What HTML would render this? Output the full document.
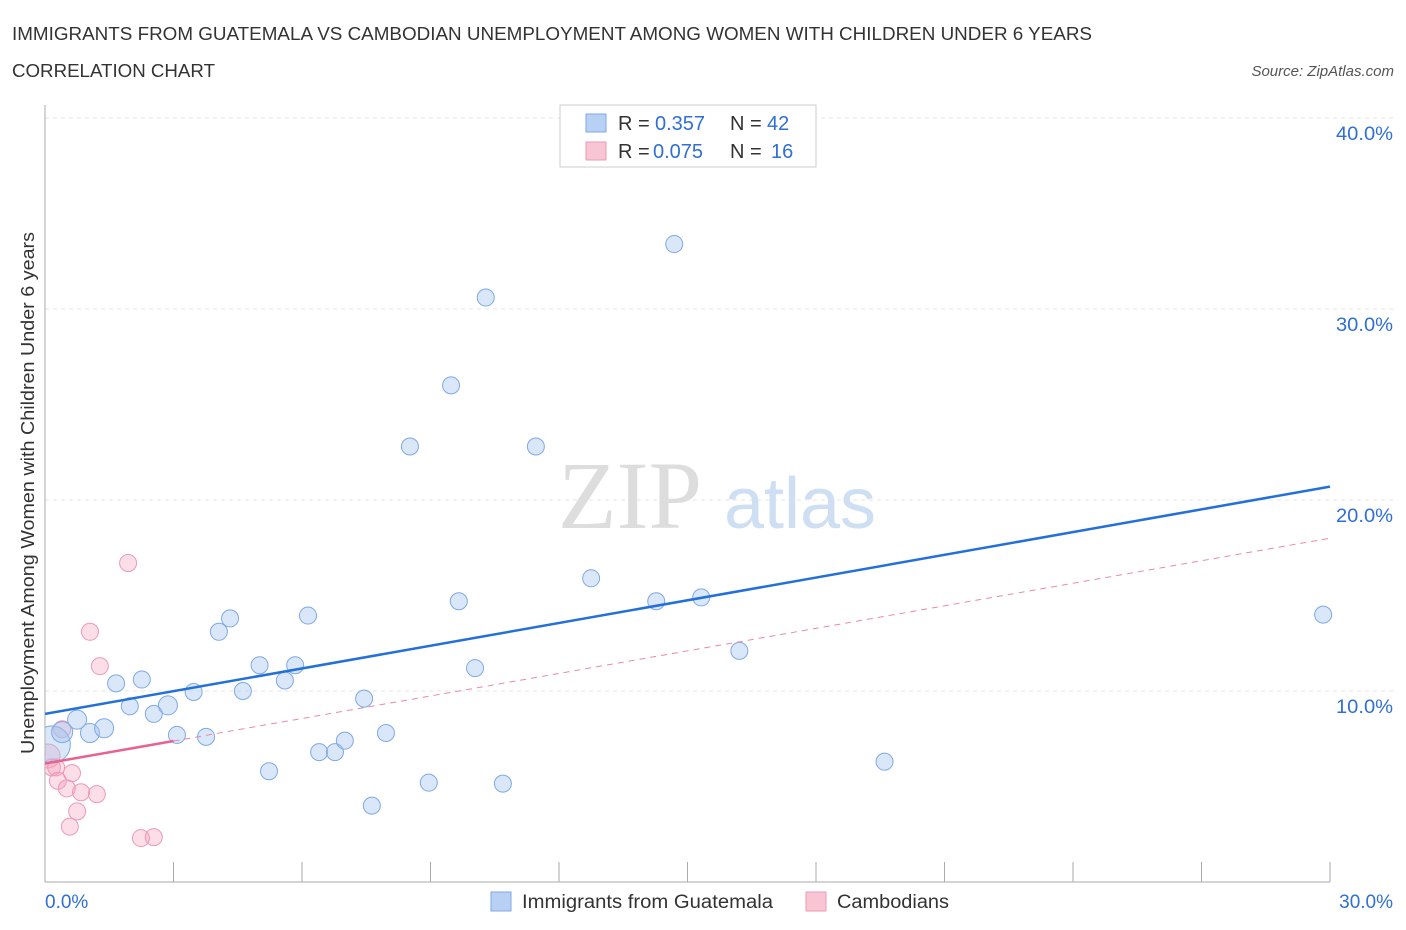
<!DOCTYPE html>
<html><head><meta charset="utf-8"><style>
body{margin:0;background:#fff;font-family:"Liberation Sans",sans-serif}
svg{display:block}
</style></head><body>
<svg width="1406" height="930" xmlns="http://www.w3.org/2000/svg">
<defs><clipPath id="plot"><rect x="45" y="100" width="1360" height="782"/></clipPath></defs>
<text x="12" y="40" font-size="18" fill="#333" textLength="1080" lengthAdjust="spacingAndGlyphs">IMMIGRANTS FROM GUATEMALA VS CAMBODIAN UNEMPLOYMENT AMONG WOMEN WITH CHILDREN UNDER 6 YEARS</text>
<text x="12" y="77" font-size="18" fill="#333" textLength="203" lengthAdjust="spacingAndGlyphs">CORRELATION CHART</text>
<text x="1394" y="76" font-size="15" fill="#555" font-style="italic" text-anchor="end">Source: ZipAtlas.com</text>
<g id="grid"></g>
<text x="630" y="528" font-size="96" fill="#ddd" font-family="Liberation Serif" text-anchor="middle">ZIP</text>
<text x="800" y="528" font-size="72" fill="#cfdff3" text-anchor="middle">atlas</text>
<g id="axes"></g>
<g id="marks" clip-path="url(#plot)"></g>
<text transform="translate(34,493) rotate(-90)" font-size="18" fill="#333" text-anchor="middle" textLength="522" lengthAdjust="spacingAndGlyphs">Unemployment Among Women with Children Under 6 years</text>
<g>
<rect x="560" y="105" width="256" height="62" fill="#fff" stroke="#ccc"/>
<rect x="586" y="114" width="20" height="18" fill="#b7d0f3" stroke="#7fa9e6"/>
<rect x="586" y="142" width="20" height="18" fill="#f8c5d4" stroke="#ee9ab3"/>
<text y="130" font-size="20" fill="#333"><tspan x="618">R =</tspan><tspan x="655" fill="#2f6fd6">0.357</tspan><tspan x="730">N =</tspan><tspan x="767" fill="#2f6fd6">42</tspan></text>
<text y="158" font-size="20" fill="#333"><tspan x="618">R =</tspan><tspan x="653" fill="#2f6fd6">0.075</tspan><tspan x="730">N =</tspan><tspan x="771" fill="#2f6fd6">16</tspan></text>
</g>
<g>
<rect x="491" y="892" width="20" height="19" fill="#b7d0f3" stroke="#7fa9e6"/>
<text x="522" y="908" font-size="19" fill="#333" textLength="251" lengthAdjust="spacingAndGlyphs">Immigrants from Guatemala</text>
<rect x="806" y="892" width="20" height="19" fill="#f8c5d4" stroke="#ee9ab3"/>
<text x="837" y="908" font-size="19" fill="#333" textLength="112" lengthAdjust="spacingAndGlyphs">Cambodians</text>
</g>
</svg>
<script>
const yTicks=[10,20,30,40];
const xTickLabels=["0.0%","30.0%"];
const blueX=[0.16,0.4,0.75,1.05,1.38,1.66,1.98,2.26,2.54,2.87,3.08,3.47,3.76,4.06,4.32,4.62,5.01,5.23,5.6,5.84,6.14,6.4,6.77,7.0,7.45,7.63,7.96,8.52,8.96,9.48,9.66,10.04,10.29,10.69,11.46,12.75,14.27,14.69,15.32,16.21,19.6,29.84];
const blueY=[7.2,7.85,8.5,7.8,8.05,10.4,9.2,10.6,8.8,9.25,7.7,9.95,7.6,13.1,13.8,10.0,11.35,5.8,10.55,11.35,13.95,6.8,6.8,7.4,9.6,4.0,7.8,22.8,5.2,26.0,14.7,11.2,30.6,5.15,22.8,15.9,14.7,33.4,14.9,12.1,6.3,14.0];
const blueR=[18,10,9,9,9,8,8,8,8,9,8,8,8,8,8,8,8,8,8,8,8,8,8,8,8,8,8,8,8,8,8,8,8,8,8,8,8,8,8,8,8,8];
const pinkX=[0.07,0.16,0.26,0.4,0.3,0.51,0.63,0.58,0.75,0.84,1.21,1.05,1.28,1.94,2.24,2.54];
const pinkY=[6.6,6.0,6.0,8.0,5.3,4.9,5.7,2.9,3.7,4.7,4.6,13.1,11.3,16.7,2.3,2.35];
const blueTrend=[8.8,20.7];
const pinkTrend=[6.2,18.0];
const X=v=>45+v/30*1285, Y=v=>882-v*19.1;
const NS="http://www.w3.org/2000/svg";
function mk(p,t,a){const e=document.createElementNS(NS,t);for(const k in a)e.setAttribute(k,a[k]);p.appendChild(e);return e;}
const grid=document.getElementById('grid'),axes=document.getElementById('axes'),marks=document.getElementById('marks');
yTicks.forEach(t=>{
const l=mk(grid,'line',{x1:45,x2:1395,y1:Y(t),y2:Y(t),stroke:'#e6e6e6','stroke-dasharray':'4,4'});


const tx=mk(axes,'text',{x:1393,y:Y(t)+22,'font-size':19,fill:'#2f6fd6','text-anchor':'end',textLength:57,lengthAdjust:'spacingAndGlyphs'});
tx.textContent=t.toFixed(1)+'%';


});
const ax=mk(axes,'line',{x1:45,x2:1330,y1:882,y2:882,stroke:'#aaa'});


const ay=mk(axes,'line',{x1:45,x2:45,y1:105,y2:882,stroke:'#aaa'});


for(let i=0;i<=10;i++){const px=45+i*128.5;
const tk=mk(axes,'line',{x1:px,x2:px,y1:862,y2:882,stroke:'#aaa'});

}
[[0,'start',45],[1,'end',1393]].forEach(([i,a,px])=>{
const tx=mk(axes,'text',{x:px,y:908,'font-size':19,fill:'#2f6fd6','text-anchor':a});
tx.textContent=xTickLabels[i];

});
pinkX.forEach((v,i)=>{
const c=mk(marks,'circle',{cx:X(v),cy:Y(pinkY[i]),r:i==0?12:8.5,fill:'rgba(244,160,185,0.35)',stroke:'#ee9ab3','stroke-width':1});

});
blueX.forEach((v,i)=>{
const c=mk(marks,'circle',{cx:X(v),cy:Y(blueY[i]),r:blueR[i]+0.5,fill:'rgba(160,195,240,0.4)',stroke:'#7fa9e6','stroke-width':1});

});
const bl=mk(marks,'line',{x1:X(0),y1:Y(blueTrend[0]),x2:X(30),y2:Y(blueTrend[1]),stroke:'#2270d8','stroke-width':2.5});


const pk=(x)=>pinkTrend[0]+(pinkTrend[1]-pinkTrend[0])*x/30;
const pd=mk(marks,'line',{x1:X(3),y1:Y(pk(3)),x2:X(30),y2:Y(pk(30)),stroke:'#e88aa8','stroke-width':1,'stroke-dasharray':'6,5'});


const ps=mk(marks,'line',{x1:X(0),y1:Y(pk(0)),x2:X(3),y2:Y(pk(3)),stroke:'#e8628e','stroke-width':2.5});


</script>
</body></html>
